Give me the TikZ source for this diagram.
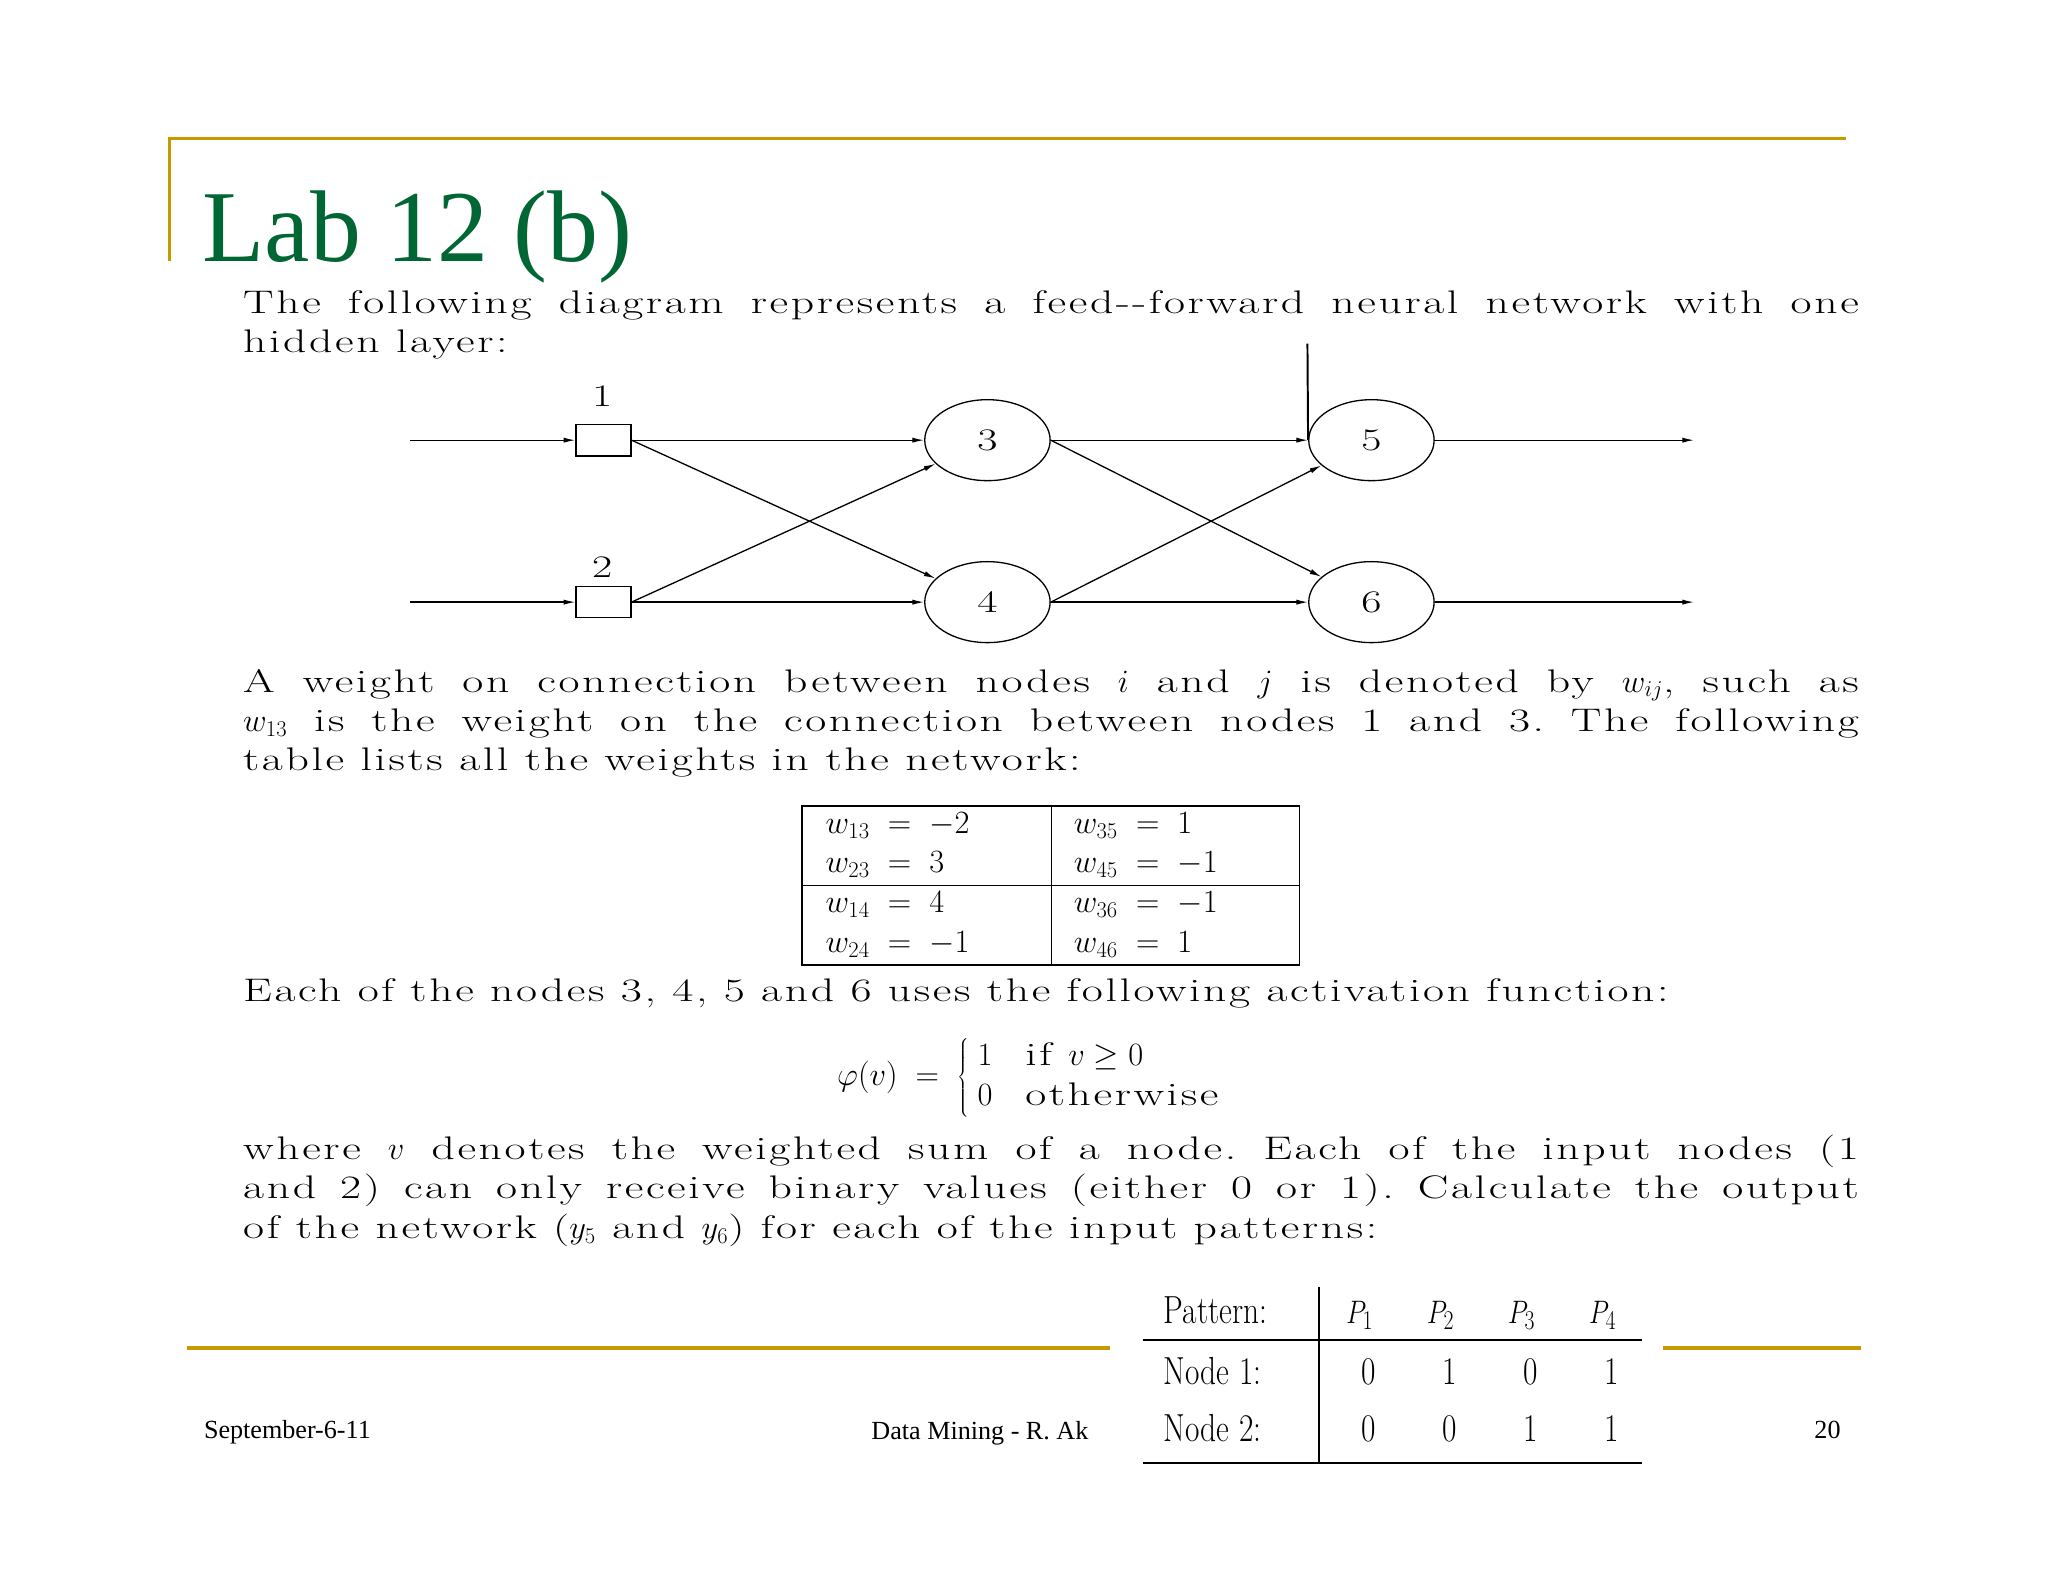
\documentclass[tikz,border=0pt]{standalone}
\usepackage{fontspec}
\setmainfont{Latin Modern Roman}
\newfontfamily\bodyfont{Latin Modern Roman}[FakeStretch=1.4,LetterSpace=8]
\newfontfamily\titlefont{Liberation Serif}
\usetikzlibrary{shapes.geometric,arrows.meta}
\definecolor{gold}{RGB}{196,154,0}
\definecolor{tgreen}{RGB}{0,102,51}
\tikzset{
  para/.style={anchor=north west,text width=1237pt,align=justify,inner sep=0pt,font=\bodyfont\fontsize{25}{30}\selectfont\frenchspacing},
  neuron/.style={draw,ellipse,minimum width=96pt,minimum height=62pt,inner sep=0pt,font=\bodyfont\fontsize{24}{28}\selectfont,line width=1pt},
  inbox/.style={draw,minimum width=42pt,minimum height=24pt,inner sep=0pt,line width=1pt},
  conn/.style={line width=1pt,-{Latex[length=9pt,width=4pt]}},
  lbl/.style={font=\bodyfont\fontsize{24}{28}\selectfont},
  foot/.style={font=\titlefont\fontsize{20}{24}\selectfont,anchor=base west,inner sep=0pt},
  tab/.style={font=\fontsize{25}{28}\selectfont,anchor=base west,inner sep=0pt},
  ptab/.style={font=\fontsize{30}{34}\selectfont,inner sep=0pt,anchor=base,xscale=0.8}
}
\begin{document}
\begin{tikzpicture}[x=1pt,y=-1pt]
\useasboundingbox (0,0) rectangle (1568,1211);
% frame
\draw[gold,line width=2.5pt] (130,200) -- (130,106) -- (1413,106);
\node[anchor=base west,inner sep=0pt,text=tgreen,font=\titlefont\fontsize{78}{80}\selectfont] (title) at (155,200) {Lab 12 (b)};
% paragraph 1
\node[para] (p1) at (186,222) {The following diagram represents a feed--forward neural network with one\linebreak hidden layer:};
% network
\node[inbox] (b1) at (462,337) {};
\node[inbox] (b2) at (462,461) {};
\node[lbl] (l1) at (461,303) {1};
\node[lbl] (l2) at (461,434) {2};
\node[neuron] (n3) at (756,337) {3};
\node[neuron] (n4) at (756,461) {4};
\node[neuron] (n5) at (1050,337) {5};
\node[neuron] (n6) at (1050,461) {6};
\coordinate (i1) at (314,337);
\coordinate (i2) at (314,461);
\coordinate (o5) at (1297,337);
\coordinate (o6) at (1297,461);
\coordinate (bias) at (1001,263);
\draw[conn] (i1) -- (b1.west);
\draw[conn] (i2) -- (b2.west);
\draw[conn] (b1.east) -- (n3.west);
\draw[conn] (b2.east) -- (n4.west);
\draw[conn] (b1.east) -- (n4);
\draw[conn] (b2.east) -- (n3);
\draw[conn] (n3.east) -- (n5.west);
\draw[conn] (n4.east) -- (n6.west);
\draw[conn] (n3.east) -- (n6);
\draw[conn] (n4.east) -- (n5);
\draw[line width=1.5pt] (bias) -- (n5.west);
\draw[conn] (n5.east) -- (o5);
\draw[conn] (n6.east) -- (o6);
% paragraph 2
\node[para] (p2) at (186,512) {A weight on connection between nodes $i$ and $j$ is denoted by $w_{ij}$, such as\linebreak $w_{13}$ is the weight on the connection between nodes 1 and 3. The following\linebreak table lists all the weights in the network:};
% weight table
\draw[line width=1.3pt] (614,617) rectangle (995,739);
\draw[line width=1.3pt] (805,617) -- (805,739);
\draw[line width=1.3pt] (614,678) -- (995,678);
\node[tab] (t1) at (632,638) {$w_{13}\;=\;-2$};
\node[tab] (t2) at (632,668) {$w_{23}\;=\;3$};
\node[tab] (t3) at (632,699) {$w_{14}\;=\;4$};
\node[tab] (t4) at (632,729) {$w_{24}\;=\;-1$};
\node[tab] (t5) at (822,638) {$w_{35}\;=\;1$};
\node[tab] (t6) at (822,668) {$w_{45}\;=\;-1$};
\node[tab] (t7) at (822,699) {$w_{36}\;=\;-1$};
\node[tab] (t8) at (822,729) {$w_{46}\;=\;1$};
% paragraph 3
\node[para] (p3) at (186,749) {Each of the nodes 3, 4, 5 and 6 uses the following activation function:};
\node[inner sep=0pt,font=\bodyfont\fontsize{25}{30}\selectfont] (eq) at (790,825) {$\varphi(v)\;=\;\left\{\begin{array}{@{\;}l@{\quad}l}1 & \mbox{if } v\ge 0\\ 0 & \mbox{otherwise}\end{array}\right.$};
% paragraph 4
\node[para] (p4) at (186,869) {where $v$ denotes the weighted sum of a node. Each of the input nodes (1\linebreak and 2) can only receive binary values (either 0 or 1). Calculate the output\linebreak of the network ($y_5$ and $y_6$) for each of the input patterns:};
% footer
\draw[gold,line width=2.5pt] (143,1032) -- (850,1032);
\draw[gold,line width=2.5pt] (1273,1032) -- (1425,1032);
\node[foot] (f1) at (156,1101) {September-6-11};
\node[foot] (f2) at (667,1102) {Data Mining - R. Ak};
\node[foot] (f3) at (1389,1101) {20};
% pattern table
\draw[line width=1.5pt] (875,1026) -- (1257,1026);
\draw[line width=1.5pt] (875,1120) -- (1257,1120);
\draw[line width=1.2pt] (1010,985) -- (1010,1120);
\node[ptab,anchor=base west] (h0) at (891,1013) {Pattern:};
\node[ptab] (h1) at (1041,1013) {$P_1$};
\node[ptab] (h2) at (1103,1013) {$P_2$};
\node[ptab] (h3) at (1165,1013) {$P_3$};
\node[ptab] (h4) at (1227,1013) {$P_4$};
\node[ptab,anchor=base west] (r1) at (891,1060) {Node 1:};
\node[ptab] (a1) at (1048,1060) {0};
\node[ptab] (a2) at (1110,1060) {1};
\node[ptab] (a3) at (1172,1060) {0};
\node[ptab] (a4) at (1234,1060) {1};
\node[ptab,anchor=base west] (r2) at (891,1104) {Node 2:};
\node[ptab] (c1) at (1048,1104) {0};
\node[ptab] (c2) at (1110,1104) {0};
\node[ptab] (c3) at (1172,1104) {1};
\node[ptab] (c4) at (1234,1104) {1};
\end{tikzpicture}
\end{document}
